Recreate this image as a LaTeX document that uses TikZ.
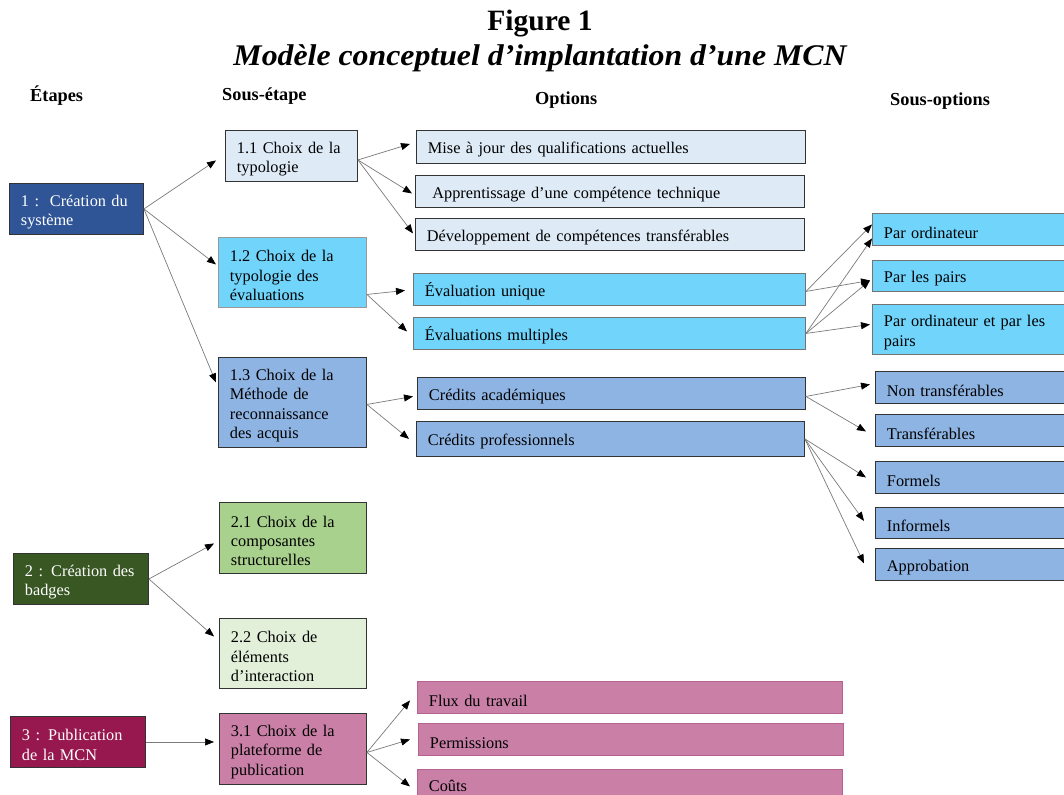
\documentclass[tikz,border=0pt]{standalone}
\usepackage{fontspec}
\setmainfont{Liberation Serif}
\usetikzlibrary{arrows.meta,calc}
\definecolor{cDkBlue}{HTML}{2F5597}
\definecolor{cLtBlue}{HTML}{DEEBF7}
\definecolor{cCyan}{HTML}{70D4FB}
\definecolor{cMidBlue}{HTML}{8EB4E3}
\definecolor{cDkGreen}{HTML}{385723}
\definecolor{cGreen}{HTML}{A9D18E}
\definecolor{cLtGreen}{HTML}{E2F0D9}
\definecolor{cDkMag}{HTML}{97174F}
\definecolor{cPink}{HTML}{C97FA6}
\definecolor{cPinkLine}{HTML}{B5628F}
\definecolor{cLine}{HTML}{7A7A7A}
\newcommand\mybox[7]{\node[box,#6,minimum width={#4-#2},minimum height={#5-#3},text width={#4-#2-23},anchor=north west] (#1) at (#2,#3) {\rule{0pt}{17.5pt}#7};}
\begin{document}
\begin{tikzpicture}[x=1pt,y=-1pt,
  box/.style={rectangle,draw=black!80,line width=0.9pt,align=left,inner xsep=11.5pt,inner ysep=1pt,
    font=\fontsize{16.3}{19.3}\selectfont},
  dark/.style={text=white},
  bLt/.style={fill=cLtBlue},
  bCy/.style={fill=cCyan,draw=black!55},
  bMid/.style={fill=cMidBlue},
  conn/.style={draw=cLine,line width=0.7pt,-{Triangle[length=9pt,width=7pt,color=black]}},
  hdr/.style={font=\fontsize{18.3}{20}\selectfont\bfseries,anchor=base west,inner sep=0pt},
  ttl/.style={font=\fontsize{29.5}{32}\selectfont\bfseries,anchor=base,inner sep=0pt}]
\clip (0,0) rectangle (1064,794);
\fill[white] (0,0) rectangle (1064,794);
% titles
\node[ttl] (t1) at (540,31) {Figure 1};
\node[ttl,font=\fontsize{30}{32}\selectfont\bfseries\itshape] (t2) at (540,66) {\scalebox{1.06}[1]{Modèle conceptuel d’implantation d’une MCN}};
\node[hdr] (h1) at (30,102) {Étapes};
\node[hdr] (h2) at (222,101) {Sous-étape};
\node[hdr] (h3) at (535,105) {Options};
\node[hdr] (h4) at (890,106) {Sous-options};
% level 1
\mybox{n1}{9}{183}{143}{234}{fill=cDkBlue,dark}{1 :\ \ Création du\\système}
\mybox{n2}{13}{553}{148}{604}{fill=cDkGreen,dark}{2 : Création des\\badges}
\mybox{n3}{10}{716}{145}{767}{fill=cDkMag,dark}{3 : Publication\\de la MCN}
% level 2
\mybox{n11}{225}{130}{357}{181}{bLt}{1.1 Choix de la\\typologie}
\mybox{n12}{218}{237}{366}{307}{bCy,draw=black!40}{1.2 Choix de la\\typologie des\\évaluations}
\mybox{n13}{218}{357}{366}{447}{bMid}{1.3 Choix de la\\Méthode de\\reconnaissance\\des acquis}
\mybox{n21}{219}{502}{366}{573}{fill=cGreen}{2.1 Choix de la\\composantes\\structurelles}
\mybox{n22}{219}{618}{366}{688}{fill=cLtGreen}{2.2 Choix de\\éléments\\d’interaction}
\mybox{n31}{219}{713}{366}{784}{fill=cPink}{3.1 Choix de la\\plateforme de\\publication}
% options
\mybox{oMaj}{416}{130}{805}{163}{bLt}{Mise à jour des qualifications actuelles}
\mybox{oApp}{415}{175}{804}{207}{bLt}{\ Apprentissage d’une compétence technique}
\mybox{oDev}{415}{218}{804}{250}{bLt}{Développement de compétences transférables}
\mybox{oEvU}{413}{273}{805}{305}{bCy}{Évaluation unique}
\mybox{oEvM}{413}{317}{805}{349}{bCy}{Évaluations multiples}
\mybox{oCA}{417}{377}{805}{409}{bMid}{Crédits académiques}
\mybox{oCP}{416}{421}{804}{456}{bMid}{Crédits professionnels}
\mybox{oFlux}{417}{681}{842}{713}{fill=cPink,draw=cPinkLine}{Flux du travail}
\mybox{oPerm}{418}{723}{843}{755}{fill=cPink,draw=cPinkLine}{Permissions}
\mybox{oCout}{417}{769}{842}{796}{fill=cPink,draw=cPinkLine}{Coûts}
% sub-options
\mybox{sPO}{872}{213}{1100}{245}{bCy}{Par ordinateur}
\mybox{sPP}{872}{260}{1100}{291}{bCy}{Par les pairs}
\mybox{sPOPP}{872}{304}{1100}{354}{bCy}{Par ordinateur et par les\\pairs}
\mybox{sNT}{875}{371}{1100}{403}{bMid}{Non transférables}
\mybox{sT}{875}{414}{1100}{446}{bMid}{Transférables}
\mybox{sF}{875}{461}{1100}{493}{bMid}{Formels}
\mybox{sI}{875}{507}{1100}{538}{bMid}{Informels}
\mybox{sA}{875}{548}{1100}{580}{bMid}{Approbation}
% connectors level 1 -> 2
\draw[conn] (n1.east) -- ([xshift=-9pt,yshift=-4.5pt]n11.west);
\draw[conn] (n1.east) -- ([xshift=-2pt,yshift=8pt]n12.west);
\draw[conn] (n1.east) -- ([xshift=-2pt,yshift=20pt]n13.west);
\draw[conn] (n2.east) -- ([xshift=-5pt,yshift=-5.5pt]n21.west);
\draw[conn] (n2.east) -- ([xshift=-5pt,yshift=17pt]n22.west);
\draw[conn] (n3.east) -- ([xshift=-5pt]n3.east -| n31.west);
% level 2 -> options
\draw[conn] ([yshift=-4pt]n11.east) -- ([xshift=-6pt,yshift=3pt]oMaj.west);
\draw[conn] ([yshift=-4pt]n11.east) -- ([xshift=-3pt,yshift=-2pt]oApp.west);
\draw[conn] ([yshift=-4pt]n11.east) -- ([xshift=-2pt,yshift=1pt]oDev.west);
\draw[conn] ([yshift=-22pt]n12.east) -- ([xshift=-8pt,yshift=-1pt]oEvU.west);
\draw[conn] ([yshift=-22pt]n12.east) -- ([xshift=-6pt,yshift=2pt]oEvM.west);
\draw[conn] ([yshift=-2pt]n13.east) -- ([xshift=-4pt,yshift=-3pt]oCA.west);
\draw[conn] ([yshift=-2pt]n13.east) -- ([xshift=-7pt]oCP.west);
\draw[conn] ([yshift=-3.5pt]n31.east) -- ([xshift=-7pt,yshift=-3pt]oFlux.west);
\draw[conn] ([yshift=-3.5pt]n31.east) -- ([xshift=-8pt]oPerm.west);
\draw[conn] ([yshift=-3.5pt]n31.east) -- ([xshift=-7pt,yshift=-3.5pt]oCout.west);
% options -> sub-options
\draw[conn] ([yshift=-2pt]oEvU.east) -- ([yshift=5pt]sPO.west);
\draw[conn] ([yshift=-2pt]oEvU.east) -- ([xshift=-2pt,yshift=-4.5pt]sPP.west);
\draw[conn] (oEvM.east) -- ([yshift=-9pt]sPO.west);
\draw[conn] (oEvM.east) -- ([xshift=-2pt,yshift=-4.5pt]sPP.west);
\draw[conn] (oEvM.east) -- ([xshift=-2pt,yshift=5pt]sPOPP.west);
\draw[conn] ([yshift=-3pt]oCA.east) -- ([xshift=-5pt,yshift=3pt]sNT.west);
\draw[conn] ([yshift=-3pt]oCA.east) -- ([xshift=-9pt,yshift=-1pt]sT.west);
\draw[conn] (oCP.east) -- ([xshift=-9pt]sF.west);
\draw[conn] (oCP.east) -- ([xshift=-11pt,yshift=2pt]sI.west);
\draw[conn] (oCP.east) -- ([xshift=-11pt,yshift=1pt]sA.west);
\end{tikzpicture}
\end{document}
